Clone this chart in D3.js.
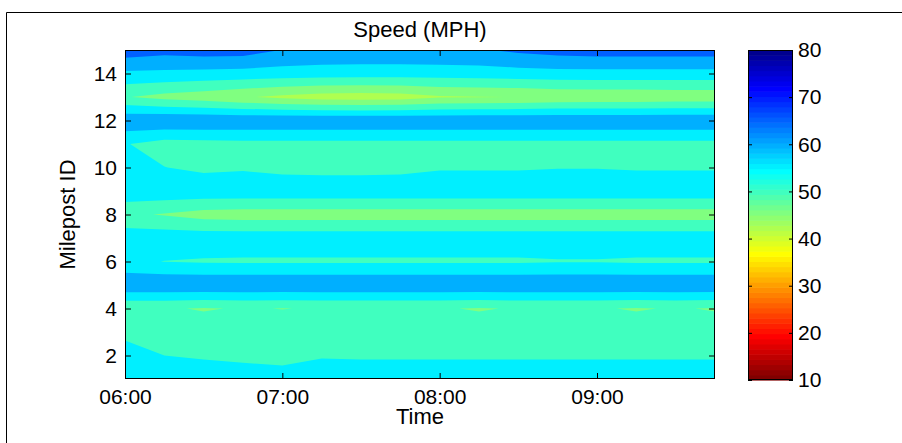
<!DOCTYPE html>
<html>
<head>
<meta charset="utf-8">
<script src="https://cdn.jsdelivr.net/npm/d3@7"></script>
<style>
body{margin:0;background:#fff}
svg{display:block}
text{font-family:"Liberation Sans",Arial,sans-serif;fill:#000}
</style>
</head>
<body>
<svg id="chart" width="902" height="443"></svg>
<script>
// time columns (every 15 min) and milepost rows
var times = ["06:00","06:15","06:30","06:45","07:00","07:15","07:30","07:45",
             "08:00","08:15","08:30","08:45","09:00","09:15","09:30","09:45"];
var mileposts = [1,2,3,4,5,6,7,8,9,10,11,12,13,14,15];

// speed (mph) per milepost, one value per time column
var mp01 = [57,57,57,57,57,57,57,57,57,57,57,57,57,57,57,57];
var mp02 = [57.7,55.0,54.6,54.1,53.5,54.7,54.6,54.6,54.6,54.6,54.6,54.6,54.6,54.6,54.6,54.6];
var mp03 = [53.5,52,52,52,52,52,52,52,52,52,52,52,52,52,52,52];
var mp04 = [50.5,50.4,49.7,50.3,49.9,50.3,50.3,50.3,50.3,49.7,50.3,50.3,50.3,49.7,50.3,49.7];
var mp05 = [64.3,64.3,64.3,64.3,64.3,64.3,64.3,64.3,64.3,64.3,64.3,64.3,64.3,64.3,64.3,64.3];
var mp06 = [56,54.9,54.5,54.4,54.4,54.4,54.4,54.4,54.4,54.4,54.4,54.7,54.7,54.4,54.4,54.4];
var mp07 = [58,58,58,58,58,58,58,58,58,58,58,58,58,58,58,58];
var mp08 = [51,49.6,48,47.5,47.5,47.5,47.5,47.5,47.5,47.5,47.5,47.5,47.5,47.5,47.5,47.5];
var mp09 = [58.5,58.5,58.5,58.5,58.5,58.5,58.5,58.5,58.5,58.5,58.5,58.5,58.5,58.5,58.5,58.5];
var mp10 = [57,55.1,53.9,54.4,53.5,53.3,53.3,53.5,54.5,54.5,54.5,54.8,54.8,54.5,54.5,54.5];
var mp11 = [55.3,53,53.3,53.5,53.5,53.5,53.5,53.5,53.5,53.5,53.5,53.5,53.5,53.5,53.5,53.5];
var mp12 = [64,64.3,64.3,64.3,64.3,64.3,64.3,64.3,64.3,64.3,64.3,64.3,64.3,64.3,64.3,64.3];
var mp13 = [50.3,48.5,47.2,45.5,44,42.8,42.5,42.8,44.5,44.8,45.1,46,46.2,46.2,46.5,46.5];
var mp14 = [59,58.8,58.5,58.2,57.8,57.5,57.4,57.4,57.4,57.6,58,58.3,58.3,58.3,58.3,58.3];
var mp15 = [68,66.8,67.5,67.3,64.9,64.3,64,64,64.3,64.6,66,67,67.5,67.5,67.5,67.5];

var levels = [45,50,55,60,65,70];
var xTickLabels = ["06:00","07:00","08:00","09:00"];
var yTicks = [2,4,6,8,10,12,14];
var cbTicks = [10,20,30,40,50,60,70,80];
var cLimits = [10,80];

// matlab jet(m)
function jet(m) {
    var n = Math.ceil(m/4), u = [], i;
    for (i=1;i<=n;i++) u.push(i/n);
    for (i=1;i<n;i++) u.push(1);
    for (i=n;i>=1;i--) u.push(i/n);
    var g0 = Math.ceil(n/2) - (m%4==1?1:0);
    var J = [];
    for (i=0;i<m;i++) J.push([0,0,0]);
    for (var k=0;k<u.length;k++) {
        var g = g0+k+1, r = g+n, b = g-n;
        if (g>=1 && g<=m) J[g-1][1] = u[k];
        if (r>=1 && r<=m) J[r-1][0] = u[k];
        if (b>=1 && b<=m) J[b-1][2] = u[k];
    }
    return J;
}
var cmap = jet(64).reverse().map(function (c) {
    return d3.rgb(Math.round(c[0]*255), Math.round(c[1]*255), Math.round(c[2]*255)).toString();
});
function color(v) {
    var idx = Math.floor((v-cLimits[0])/(cLimits[1]-cLimits[0])*cmap.length);
    return cmap[Math.max(0, Math.min(cmap.length-1, idx))];
}

function hm(s) {
    var p = s.split(":");
    return new Date(2000,0,1,+p[0],+p[1]);
}

var svg = d3.select("#chart");
var L = 125, R = 715, T = 50, B = 379;

var x = d3.scaleTime().domain([hm(times[0]), hm(times[times.length-1])]).range([L,R]);
var y = d3.scaleLinear().domain([mileposts[0], mileposts[mileposts.length-1]]).range([B,T]);

// figure frame
svg.append("path").attr("d","M6.5,443V12.5H902")
    .attr("fill","none").attr("stroke","#000");

// filled contours
var rows = [mp01,mp02,mp03,mp04,mp05,mp06,mp07,mp08,mp09,mp10,mp11,mp12,mp13,mp14,mp15];
var n = times.length, m = rows.length;
var values = [];
rows.forEach(function (r) { r.forEach(function (v) { values.push(v); }); });
var contours = d3.contours().size([n,m]).thresholds(levels)(values);

var t0 = hm(times[0]).getTime(), step = hm(times[1]).getTime() - t0;
var proj = d3.geoTransform({
    point: function (px, py) {
        var ti = px - 0.5, mi = py - 0.5;
        this.stream.point(x(new Date(t0 + ti*step)), y(mileposts[0] + mi));
    }
});
var path = d3.geoPath(proj);

svg.append("clipPath").attr("id","plotclip")
    .append("rect").attr("x",L).attr("y",T).attr("width",R-L).attr("height",B-T);

var g = svg.append("g").attr("clip-path","url(#plotclip)");
// region below the lowest level takes the colour of the data minimum
g.append("rect").attr("x",L).attr("y",T).attr("width",R-L).attr("height",B-T)
    .attr("fill", color(d3.min(values)));
g.selectAll("path.band")
    .data(contours)
    .enter().append("path")
    .attr("class","band")
    .attr("d", path)
    .attr("fill", function (d) { return color(d.value); });

// axes, ticks inside
var xTicks = xTickLabels.map(hm);
var fmt = d3.timeFormat("%H:%M");
var fs = "21px";

svg.append("g").attr("transform","translate(0,"+B+")")
    .call(d3.axisBottom(x).tickValues(xTicks).tickFormat(fmt).tickSizeInner(-6).tickSizeOuter(0).tickPadding(10));
svg.append("g").attr("transform","translate(0,"+T+")")
    .call(d3.axisTop(x).tickValues(xTicks).tickFormat("").tickSizeInner(-6).tickSizeOuter(0));
svg.append("g").attr("transform","translate("+L+",0)")
    .call(d3.axisLeft(y).tickValues(yTicks).tickSizeInner(-6).tickSizeOuter(0).tickPadding(8));
svg.append("g").attr("transform","translate("+R+",0)")
    .call(d3.axisRight(y).tickValues(yTicks).tickFormat("").tickSizeInner(-6).tickSizeOuter(0));

svg.selectAll(".domain").remove();
svg.selectAll(".tick line").attr("stroke","#000");
svg.selectAll(".tick text").attr("font-size",fs).attr("font-family",null);

svg.append("rect").attr("x",L+0.5).attr("y",T+0.5).attr("width",R-L-1).attr("height",B-T-1)
    .attr("fill","none").attr("stroke","#000");

// colorbar
var cbL = 748, cbR = 793, cbT = 50, cbB = 380;
var cy = d3.scaleLinear().domain(cLimits).range([cbB,cbT]);
var cb = svg.append("g");
cb.selectAll("rect.cm")
    .data(cmap)
    .enter().append("rect")
    .attr("class","cm")
    .attr("x",cbL)
    .attr("width",cbR-cbL)
    .attr("y", function (d,i) { return cy(cLimits[0] + (i+1)*(cLimits[1]-cLimits[0])/cmap.length); })
    .attr("height", (cbB-cbT)/cmap.length + 0.6)
    .attr("fill", function (d) { return d; });

svg.append("g").attr("transform","translate("+cbR+",0)")
    .call(d3.axisRight(cy).tickValues(cbTicks).tickSizeInner(-4).tickSizeOuter(0).tickPadding(5));
svg.append("g").attr("transform","translate("+cbL+",0)")
    .call(d3.axisLeft(cy).tickValues(cbTicks).tickFormat("").tickSizeInner(-4).tickSizeOuter(0));
svg.selectAll(".domain").remove();
svg.selectAll(".tick line").attr("stroke","#000");
svg.selectAll(".tick text").attr("font-size",fs).attr("font-family",null);
svg.append("rect").attr("x",cbL+0.5).attr("y",cbT+0.5).attr("width",cbR-cbL-1).attr("height",cbB-cbT-1)
    .attr("fill","none").attr("stroke","#000");

// labels
svg.append("text").attr("x",(L+R)/2).attr("y",37).attr("text-anchor","middle")
    .attr("font-size","22px").text("Speed (MPH)");
svg.append("text").attr("x",(L+R)/2).attr("y",424).attr("text-anchor","middle")
    .attr("font-size","22px").text("Time");
svg.append("text").attr("transform","translate(75,"+((T+B)/2)+") rotate(-90)")
    .attr("text-anchor","middle").attr("font-size","22px").text("Milepost ID");
</script>
</body>
</html>
